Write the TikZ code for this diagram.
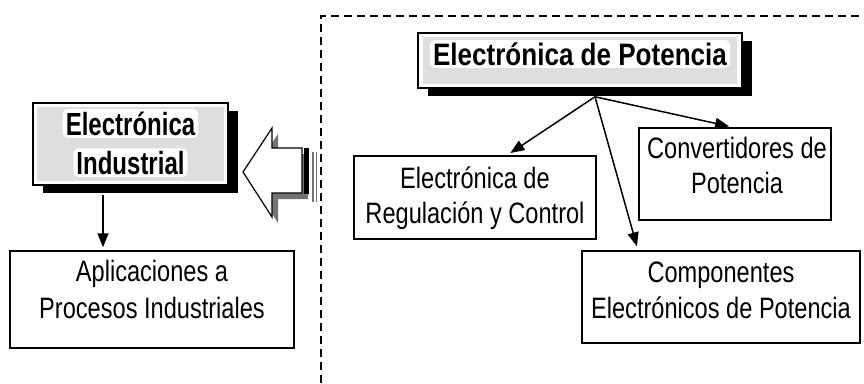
\documentclass[tikz,border=0pt]{standalone}
\usepackage{fontspec}
\setmainfont{Liberation Sans}
\newfontfamily\regfont[FakeStretch=0.8]{Liberation Sans}
\newfontfamily\indfont[FakeStretch=0.75]{Liberation Sans}
\newfontfamily\powfont[FakeStretch=0.84]{Liberation Sans}
\usetikzlibrary{arrows.meta,calc,shadows}

\begin{document}
\begin{tikzpicture}[x=1pt,y=-1pt,
  box/.style={draw=black,line width=1.5pt,fill=white,inner sep=0pt},
  titlebox/.style={box,drop shadow={shadow xshift=10pt,shadow yshift=-8pt,fill=black,opacity=1}},
  inner/.style={fill=black!13},
  txt/.style={anchor=base,inner sep=0pt,font=\regfont\fontsize{29.5}{34}\selectfont},
  glow/.style={anchor=base,fill=white,rounded corners=5pt,inner xsep=3pt,inner ysep=2.5pt},
  ttl/.style={glow,font=\powfont\fontsize{31}{36}\selectfont\bfseries},
  ttlsmall/.style={glow,font=\indfont\fontsize{32}{36}\selectfont\bfseries},
  conn/.style={line width=1.5pt,-{Triangle[length=14pt,width=11pt]}},
  dashframe/.style={line width=2pt,dash pattern=on 8pt off 5pt}]
\useasboundingbox (0,0) rectangle (864,383);
\fill[white] (0,0) rectangle (864,383);

% dashed frame around the power electronics area
\draw[dashframe] (321,383) -- (321,16) -- (864,16);

% title boxes with drop shadow and grey inner panel
\node[titlebox,minimum width=324pt,minimum height=55pt] (power) at (580,60.5) {};
\fill[inner] ($(power.north west)+(6,5)$) rectangle ($(power.south east)+(-6,-5)$);
\node[ttl] (powert) at (580,65) {Electrónica de Potencia};

\node[titlebox,minimum width=195pt,minimum height=82pt] (ind) at (130.5,144) {};
\fill[inner] ($(ind.north west)+(5,5)$) rectangle ($(ind.south east)+(-5,-5)$);
\node[ttlsmall] (indt1) at (130.5,135) {Electrónica};
\node[ttlsmall] (indt2) at (130.5,174) {Industrial};

% plain boxes
\node[box,minimum width=284pt,minimum height=97pt] (apl) at (152,299.5) {};
\node[txt] (aplt1) at (152,281) {Aplicaciones a};
\node[txt] (aplt2) at (152,318) {Procesos Industriales};

\node[box,minimum width=242pt,minimum height=83pt] (reg) at (475,197.5) {};
\node[txt] (regt1) at (475,188) {Electrónica de};
\node[txt] (regt2) at (475,223) {Regulación y Control};

\node[box,minimum width=192pt,minimum height=92pt] (conv) at (735,174) {};
\node[txt] (convt1) at (737,158) {Convertidores de};
\node[txt] (convt2) at (737,193) {Potencia};

\node[box,minimum width=278pt,minimum height=92pt] (comp) at (721,297) {};
\node[txt] (compt1) at (721,282) {Componentes};
\node[txt] (compt2) at (721,318) {Electrónicos de Potencia};

% connectors
\coordinate (hub) at ($(power.south)+(15,8)$);
\draw[conn,shorten >=4pt] (hub) -- ($(reg.north)+(32,0)$);
\draw[conn,shorten >=4pt] (hub) -- ($(comp.north)+(-83,0)$);
\draw[conn,shorten >=4pt] (hub) -- ($(conv.north)+(-2,0)$);
\draw[conn,shorten >=3pt] ($(ind.south)+(-27.5,9)$) -- ($(apl.north)+(-49,0)$);

% hollow block arrow pointing to the industrial electronics box
\fill[black!55] (249,178) -- (278,134) -- (278,154) -- (308,154) -- (308,199)
  -- (278,199) -- (278,223) -- cycle;
\draw[line width=1.2pt,fill=white,line join=miter] (243,172) -- (272,128) -- (272,148)
  -- (302,148) -- (302,193) -- (272,193) -- (272,217) -- cycle;
\fill[black] (304,148) rectangle (309,194);
\draw[black!55,line width=1.2pt] (313,152) -- (313,202);
\draw[black!55,line width=1.2pt] (316.5,152) -- (316.5,202);
\end{tikzpicture}
\end{document}
